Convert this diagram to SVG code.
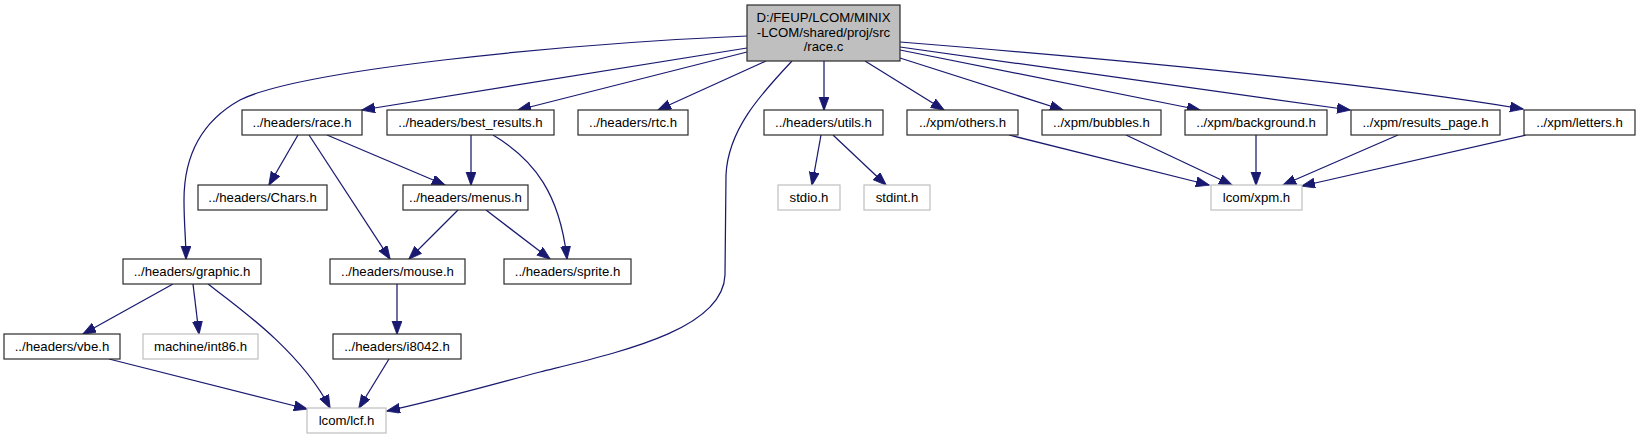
<svg xmlns="http://www.w3.org/2000/svg" width="1639" height="440" viewBox="0 0 1639 440">
<style>
.n rect{fill:#ffffff;stroke:#2a2a2a;stroke-width:1.2}
.g rect{fill:#ffffff;stroke:#bfbfbf;stroke-width:1.2}
.m rect{fill:#bfbfbf;stroke:#2a2a2a;stroke-width:1.2}
text{font-family:"Liberation Sans",Arial,Helvetica,sans-serif;font-size:13.2px;fill:#000;text-anchor:middle}
#edges path{fill:none;stroke:#191970;stroke-width:1.25;marker-end:url(#arr)}
</style>
<defs>
<marker id="arr" markerUnits="userSpaceOnUse" markerWidth="15" markerHeight="11" refX="13" refY="5" orient="auto" viewBox="0 0 15 11">
<path d="M0,0 L13.5,5 L0,10 z" fill="#191970" stroke="#191970" stroke-width="0.8"/>
</marker>
</defs>
<rect width="1639" height="440" fill="#ffffff"/>
<g id="edges">
<path d="M747,48 L362,110"/>
<path d="M747,52 L518,110"/>
<path d="M766,61 L658,110"/>
<path d="M792,61 C760,95 728,130 726,175 L725,275 C723,330 620,352 540,372 C480,388 430,402 387,411"/>
<path d="M824,61 L824,110"/>
<path d="M865,61 L944,110"/>
<path d="M900,58 L1063,110"/>
<path d="M900,50 L1200,110"/>
<path d="M900,47 L1350,110"/>
<path d="M900,42 C1100,58 1350,80 1523,109"/>
<path d="M747,36 C560,44 300,70 240,100 C195,125 184,165 184,200 C184,225 186,240 186,259"/>
<path d="M298,135 L269,185"/>
<path d="M309,135 L390,259"/>
<path d="M327,135 L445,185"/>
<path d="M471,135 L471,185"/>
<path d="M493,135 C535,160 560,195 567,259"/>
<path d="M458,210 L409,259"/>
<path d="M486,210 L550,259"/>
<path d="M821,135 L812,185"/>
<path d="M833,135 L886,185"/>
<path d="M1009,135 L1209,185"/>
<path d="M1126,135 L1232,185"/>
<path d="M1256,135 L1256,185"/>
<path d="M1398,135 L1283,185"/>
<path d="M1526,135 L1302,186"/>
<path d="M173,284 L83,334"/>
<path d="M193,284 L199,334"/>
<path d="M208,284 C235,305 300,350 330,408"/>
<path d="M397,284 L397,334"/>
<path d="M389,359 L359,408"/>
<path d="M109,359 L307,409"/>
</g>
<g id="node_main" class="m"><rect x="747" y="5" width="153" height="56"/><text x="823.5" y="21.5">D:/FEUP/LCOM/MINIX</text><text x="823.5" y="36.5">-LCOM/shared/proj/src</text><text x="823.5" y="51">/race.c</text></g>
<g id="node_race_h" class="n"><rect x="242" y="110" width="120" height="25"/><text x="302" y="127">../headers/race.h</text></g>
<g id="node_best_results_h" class="n"><rect x="387" y="110" width="167" height="25"/><text x="470.5" y="127">../headers/best_results.h</text></g>
<g id="node_rtc_h" class="n"><rect x="578" y="110" width="110" height="25"/><text x="633" y="127">../headers/rtc.h</text></g>
<g id="node_utils_h" class="n"><rect x="764" y="110" width="119" height="25"/><text x="823.5" y="127">../headers/utils.h</text></g>
<g id="node_others_h" class="n"><rect x="907" y="110" width="111" height="25"/><text x="962.5" y="127">../xpm/others.h</text></g>
<g id="node_bubbles_h" class="n"><rect x="1042" y="110" width="119" height="25"/><text x="1101.5" y="127">../xpm/bubbles.h</text></g>
<g id="node_background_h" class="n"><rect x="1185" y="110" width="142" height="25"/><text x="1256" y="127">../xpm/background.h</text></g>
<g id="node_results_page_h" class="n"><rect x="1351" y="110" width="149" height="25"/><text x="1425.5" y="127">../xpm/results_page.h</text></g>
<g id="node_letters_h" class="n"><rect x="1524" y="110" width="111" height="25"/><text x="1579.5" y="127">../xpm/letters.h</text></g>
<g id="node_Chars_h" class="n"><rect x="198" y="185" width="129" height="25"/><text x="262.5" y="202">../headers/Chars.h</text></g>
<g id="node_menus_h" class="n"><rect x="403" y="185" width="125" height="25"/><text x="465.5" y="202">../headers/menus.h</text></g>
<g id="node_stdio_h" class="g"><rect x="778" y="185" width="62" height="25"/><text x="809" y="202">stdio.h</text></g>
<g id="node_stdint_h" class="g"><rect x="864" y="185" width="66" height="25"/><text x="897" y="202">stdint.h</text></g>
<g id="node_xpm_h" class="g"><rect x="1211" y="185" width="91" height="25"/><text x="1256.5" y="202">lcom/xpm.h</text></g>
<g id="node_graphic_h" class="n"><rect x="123" y="259" width="138" height="25"/><text x="192" y="276">../headers/graphic.h</text></g>
<g id="node_mouse_h" class="n"><rect x="330" y="259" width="135" height="25"/><text x="397.5" y="276">../headers/mouse.h</text></g>
<g id="node_sprite_h" class="n"><rect x="504" y="259" width="127" height="25"/><text x="567.5" y="276">../headers/sprite.h</text></g>
<g id="node_vbe_h" class="n"><rect x="4" y="334" width="116" height="25"/><text x="62" y="351">../headers/vbe.h</text></g>
<g id="node_int86_h" class="g"><rect x="143" y="334" width="115" height="25"/><text x="200.5" y="351">machine/int86.h</text></g>
<g id="node_i8042_h" class="n"><rect x="333" y="334" width="128" height="25"/><text x="397" y="351">../headers/i8042.h</text></g>
<g id="node_lcf_h" class="g"><rect x="307" y="408" width="79" height="25"/><text x="346.5" y="425">lcom/lcf.h</text></g>
</svg>
